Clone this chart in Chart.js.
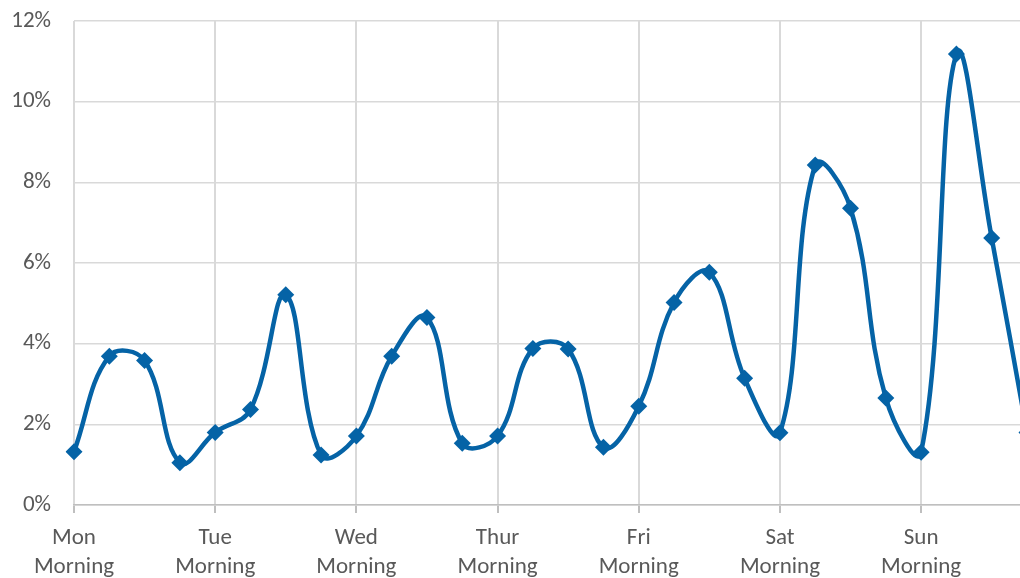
<!DOCTYPE html>
<html>
<head>
<meta charset="utf-8">
<script src="https://cdn.jsdelivr.net/npm/chart.js@4"></script>
<style>
  html, body { margin: 0; padding: 0; background: #fff; overflow: hidden; }
  #wrap { width: 1045px; height: 578px; position: relative; }
</style>
</head>
<body>
<div id="wrap"><canvas id="shareChart"></canvas></div>
<script>
// 7 days x 4 periods, only the morning slot gets a label
const days = ['Mon', 'Tue', 'Wed', 'Thur', 'Fri', 'Sat', 'Sun'];
const periods = ['Morning', 'Afternoon', 'Evening', 'Night'];
const categories = [];
days.forEach(d => periods.forEach(p => categories.push(d + ' ' + p)));

const shareValues = [
    1.32, 3.69, 3.58, 1.05,
    1.80, 2.37, 5.21, 1.24,
    1.71, 3.69, 4.65, 1.53,
    1.71, 3.88, 3.87, 1.43,
    2.45, 5.02, 5.77, 3.14,
    1.79, 8.43, 7.36, 2.65,
    1.31, 11.18, 6.62, 1.80
];

const yTicks = [0, 2, 4, 6, 8, 10, 12];

const textColor = '#595959';
const gridColor = '#d9d9d9';
const lineColor = '#0563a6';
const fontFamily = 'Carlito, Lato, sans-serif';

const ctx = document.getElementById('shareChart').getContext('2d');

new Chart(ctx, {
    type: 'line',
    data: {
        labels: categories,
        datasets: [{
            data: shareValues,
            borderColor: lineColor,
            backgroundColor: lineColor,
            borderWidth: 4.5,
            tension: 0.4,
            pointStyle: 'rectRot',
            pointRadius: 8.5,
            pointBorderWidth: 0,
            fill: false
        }]
    },
    options: {
        responsive: true,
        maintainAspectRatio: false,
        animation: false,
        layout: { padding: { top: 21, right: 18, left: 0, bottom: 0 } },
        plugins: {
            legend: { display: false },
            tooltip: { enabled: false }
        },
        scales: {
            x: {
                offset: false,
                afterFit: s => { s.height = 73; },
                border: { color: '#bfbfbf', width: 1.5 },
                grid: {
                    color: c => (c.index % 4 === 0 ? gridColor : 'rgba(0,0,0,0)'),
                    tickColor: c => (c.index % 4 === 0 ? '#bfbfbf' : 'rgba(0,0,0,0)'),
                    lineWidth: 2,
                    tickLength: 8,
                    drawTicks: true
                },
                ticks: {
                    autoSkip: false,
                    maxRotation: 0,
                    padding: 11,
                    color: textColor,
                    font: { family: fontFamily, size: 23, lineHeight: 1.25 },
                    callback: (v, i) => (i % 4 === 0 ? categories[i].split(' ') : '')
                }
            },
            y: {
                min: 0,
                max: 12,
                afterFit: s => { s.width = 74; s.paddingTop = 0; s.paddingBottom = 0; },
                afterBuildTicks: s => { s.ticks = yTicks.map(v => ({ value: v })); },
                border: { display: false },
                grid: { color: gridColor, lineWidth: 1.5, drawTicks: false },
                ticks: {
                    padding: 23,
                    color: textColor,
                    font: { family: fontFamily, size: 23 },
                    callback: v => v + '%'
                }
            }
        }
    }
});
</script>
</body>
</html>
